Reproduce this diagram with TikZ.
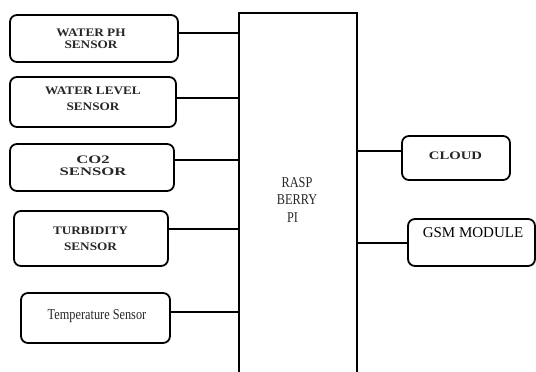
\documentclass[tikz,border=0pt]{standalone}
\usepackage{fontspec}
\setmainfont{Liberation Serif}
\newfontfamily\fa[FakeStretch=1.15]{Liberation Serif}
\newfontfamily\fb[FakeStretch=1.45]{Liberation Serif}
\newfontfamily\fc[FakeStretch=1.28]{Liberation Serif}
\newfontfamily\fd[FakeStretch=0.82]{Liberation Serif}
\begin{document}
\begin{tikzpicture}[x=1pt,y=1pt,
  box/.style={draw, line width=1.8pt, rounded corners=7pt, inner sep=0pt},
  wire/.style={line width=1.8pt},
  lbl/.style={text=black!85, inner sep=0pt, align=center}]
\useasboundingbox (0,0) rectangle (536,372);
\clip (0,0) rectangle (536,372);
% boxes
\node[box, minimum width=168, minimum height=47] (ph) at (94,333.5) {};
\node[box, minimum width=166, minimum height=50] (lvl) at (93,270) {};
\node[box, minimum width=164, minimum height=47] (co) at (92,204.5) {};
\node[box, minimum width=154, minimum height=55] (tb) at (91,133.5) {};
\node[box, minimum width=149, minimum height=50] (tp) at (95.5,54) {};
\node[draw, line width=1.8pt, inner sep=0pt, minimum width=118, minimum height=369] (pi) at (298,174.5) {};
\node[box, minimum width=108, minimum height=44] (cl) at (456,214) {};
\node[box, minimum width=127, minimum height=47] (gsm) at (471.5,129.5) {};
% texts
\node[lbl, font={\fa\bfseries\fontsize{11.5}{12.5}\selectfont}] (phT) at (91,333) {WATER PH\\SENSOR};
\node[lbl, font={\fa\bfseries\fontsize{11.5}{16}\selectfont}] (lvlT) at (93,273) {WATER LEVEL\\SENSOR};
\node[lbl, font={\fb\bfseries\fontsize{11.5}{12.5}\selectfont}] (coT) at (93,206) {CO2\\SENSOR};
\node[lbl, font={\fa\bfseries\fontsize{11.5}{16}\selectfont}] (tbT) at (90.5,133) {TURBIDITY\\SENSOR};
\node[lbl, anchor=base, font={\fd\fontsize{15}{17}\selectfont}] (tpT) at (97,52) {Temperature Sensor};
\node[lbl, font={\fc\bfseries\fontsize{11.5}{12}\selectfont}] (clT) at (455.5,216.5) {CLOUD};
\node[lbl, text=black, font={\fontsize{15}{17}\selectfont}] (gsmT) at (473,139) {GSM MODULE};
\node[lbl, font={\fd\fontsize{15}{17.5}\selectfont}] (piT) at (297,172) {RASP\\BERRY\\PI\hspace*{9pt}};
% connectors
\draw[wire] ([yshift=5.5]ph.east) -- ([yshift=5.5]ph.east -| pi.west);
\draw[wire] ([yshift=4]lvl.east) -- ([yshift=4]lvl.east -| pi.west);
\draw[wire] ([yshift=7.5]co.east) -- ([yshift=7.5]co.east -| pi.west);
\draw[wire] ([yshift=9.5]tb.east) -- ([yshift=9.5]tb.east -| pi.west);
\draw[wire] ([yshift=6]tp.east) -- ([yshift=6]tp.east -| pi.west);
\draw[wire] ([yshift=7]cl.west) -- ([yshift=7]cl.west -| pi.east);
\draw[wire] ([yshift=-0.5]gsm.west) -- ([yshift=-0.5]gsm.west -| pi.east);
\end{tikzpicture}
\end{document}
